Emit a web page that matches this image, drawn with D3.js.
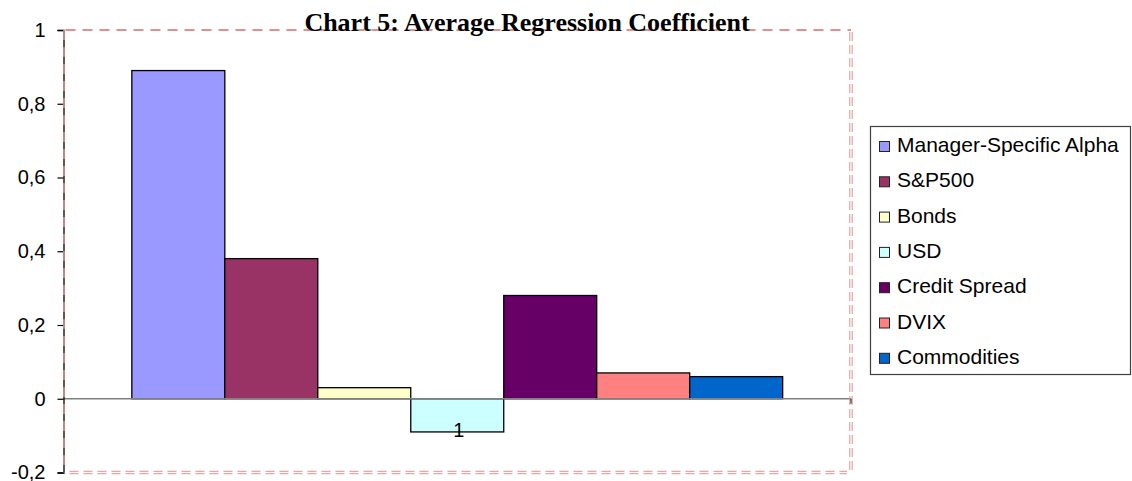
<!DOCTYPE html>
<html>
<head>
<meta charset="utf-8">
<script src="https://cdn.jsdelivr.net/npm/d3@7"></script>
<style>
  body { margin: 0; background: #fff; }
  svg { display: block; }
</style>
</head>
<body>
<svg id="chart"></svg>
<script>
// data
const categories = ["1"];
const seriesNames = ["Manager-Specific Alpha", "S&P500", "Bonds", "USD", "Credit Spread", "DVIX", "Commodities"];
const seriesValues = [0.89, 0.38, 0.03, -0.09, 0.28, 0.07, 0.06];
const seriesColors = ["#9999ff", "#993366", "#ffffcc", "#ccffff", "#660066", "#ff8080", "#0066cc"];
const yTicks = [-0.2, 0, 0.2, 0.4, 0.6, 0.8, 1];

const width = 1132, height = 481;
const plot = {left: 63.5, right: 851, top: 30, bottom: 472.5};

const svg = d3.select("#chart").attr("width", width).attr("height", height);

const y = d3.scaleLinear().domain([-0.2, 1]).range([plot.bottom, plot.top]);
const x0 = d3.scaleBand().domain(categories).range([plot.left, plot.right])
  .paddingInner(0).paddingOuter(0.105);
const x1 = d3.scaleBand().domain(seriesNames).range([0, x0.bandwidth()]).padding(0);

// decimal comma, no trailing zeros
const fmt = d => String(d).replace(".", ",");

// bars
const grp = svg.append("g").selectAll("g")
  .data(categories)
  .join("g")
  .attr("transform", d => `translate(${x0(d)},0)`);

grp.selectAll("rect")
  .data(() => seriesNames.map((n, i) => ({name: n, value: seriesValues[i], color: seriesColors[i]})))
  .join("rect")
  .attr("x", d => x1(d.name))
  .attr("width", x1.bandwidth())
  .attr("y", d => y(Math.max(0, d.value)))
  .attr("height", d => Math.abs(y(d.value) - y(0)))
  .attr("fill", d => d.color)
  .attr("stroke", "#000")
  .attr("stroke-width", 1.3);

// zero line (category axis)
svg.append("line")
  .attr("x1", plot.left).attr("x2", plot.right)
  .attr("y1", y(0)).attr("y2", y(0))
  .attr("stroke", "#808080").attr("stroke-width", 1.5);
svg.append("line")
  .attr("x1", plot.right).attr("x2", plot.right)
  .attr("y1", y(0)).attr("y2", y(0) + 5)
  .attr("stroke", "#000").attr("stroke-width", 1.2);

// category label
svg.append("text")
  .attr("x", x0(categories[0]) + x0.bandwidth() / 2 + 1.5)
  .attr("y", 437)
  .attr("text-anchor", "middle")
  .attr("font-family", "Liberation Sans, Arial, sans-serif")
  .attr("font-size", 20)
  .text(categories[0]);

// value axis
const yAxis = svg.append("g")
  .attr("transform", `translate(${plot.left},0)`)
  .call(d3.axisLeft(y).tickValues(yTicks).tickSize(6).tickPadding(12).tickFormat(fmt));
yAxis.select(".domain").attr("stroke", "#000").attr("stroke-width", 1.3);
yAxis.selectAll(".tick line").attr("stroke", "#000").attr("stroke-width", 1.2);
yAxis.selectAll(".tick text")
  .attr("font-family", "Liberation Sans, Arial, sans-serif")
  .attr("font-size", 20)
  .attr("fill", "#000");

// dashed plot frame
const dashCol = "#e09090";
svg.append("line")
  .attr("x1", plot.left + 2).attr("x2", plot.right)
  .attr("y1", plot.top).attr("y2", plot.top)
  .attr("stroke", dashCol).attr("stroke-width", 2.2)
  .attr("stroke-dasharray", "10,7");
svg.append("line")
  .attr("x1", plot.left + 0.5).attr("x2", plot.left + 0.5)
  .attr("y1", plot.top).attr("y2", plot.bottom)
  .attr("stroke", dashCol).attr("stroke-width", 1.6)
  .attr("stroke-dasharray", "10,7");
[-1.2, 1.2].forEach(off => {
  svg.append("line")
    .attr("x1", plot.left + 6).attr("x2", plot.right - 4)
    .attr("y1", plot.bottom + off).attr("y2", plot.bottom + off)
    .attr("stroke", dashCol).attr("stroke-width", 1)
    .attr("stroke-dasharray", "9,5");
  svg.append("line")
    .attr("x1", plot.right + off).attr("x2", plot.right + off)
    .attr("y1", plot.top + 2).attr("y2", plot.bottom)
    .attr("stroke", dashCol).attr("stroke-width", 1)
    .attr("stroke-dasharray", "9,4");
});

// title
svg.append("text")
  .attr("x", 527)
  .attr("y", 31)
  .attr("text-anchor", "middle")
  .attr("font-family", "Liberation Serif, Times New Roman, serif")
  .attr("font-weight", "bold")
  .attr("font-size", 26)
  .text("Chart 5: Average Regression Coefficient");

// legend
const legend = svg.append("g");
legend.append("rect")
  .attr("x", 870.5).attr("y", 126.5)
  .attr("width", 260).attr("height", 248)
  .attr("fill", "#fff").attr("stroke", "#404040").attr("stroke-width", 1.2);

const item = legend.selectAll("g.item")
  .data(seriesNames.map((n, i) => ({name: n, color: seriesColors[i]})))
  .join("g")
  .attr("class", "item")
  .attr("transform", (d, i) => `translate(0,${152 + i * 35.3})`);
item.append("rect")
  .attr("x", 879.5).attr("y", -10.5)
  .attr("width", 10).attr("height", 10)
  .attr("fill", d => d.color)
  .attr("stroke", "#222").attr("stroke-width", 1);
item.append("text")
  .attr("x", 897)
  .attr("y", 0)
  .attr("font-family", "Liberation Sans, Arial, sans-serif")
  .attr("font-size", 21)
  .text(d => d.name);
</script>
</body>
</html>
